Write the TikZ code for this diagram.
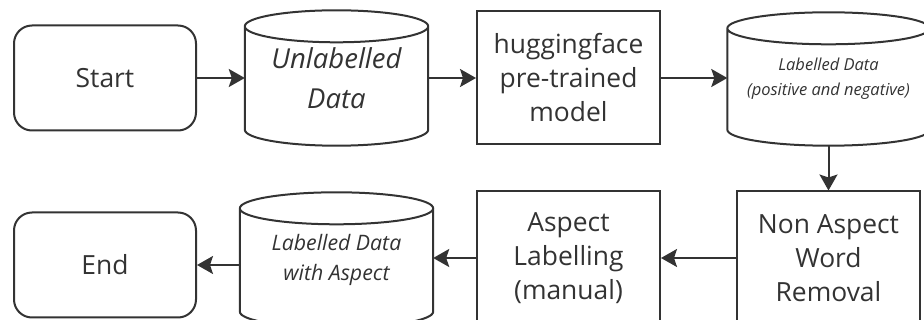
\documentclass[tikz,border=0pt]{standalone}
\usepackage{fontspec}
\setmainfont{Open Sans}
\usetikzlibrary{arrows.meta,calc}
\usetikzlibrary{positioning}
\definecolor{ink}{HTML}{333333}
% outline of a data store round a named node
\newcommand{\drum}[1]{%
 \draw[-, draw=ink, line width=2pt]
  let \p1=(#1.west), \p2=(#1.east), \n1={(\x2-\x1)/2} in
  ([yshift=-16pt]#1.north west) -- ([yshift=16pt]#1.south west)
  arc[start angle=180, end angle=360, x radius=\n1, y radius=16pt]
  -- ([yshift=-16pt]#1.north east)
  ([yshift=-16pt]#1.north) ellipse[x radius=\n1, y radius=16pt];}
\tikzset{
    terminal/.style={
           rectangle,
           rounded corners=18pt,
           draw=ink, line width=2pt,
           minimum width=182pt,
           minimum height=105pt,
           text=ink,
           font=\fontsize{26.4}{34}\selectfont,
           },
    process/.style={
           rectangle,
           draw=ink, line width=2pt,
           minimum width=183pt,
           minimum height=133pt,
           align=center,
           text=ink,
           font=\fontsize{26.4}{34}\selectfont,
           },
    store/.style={
           rectangle,
           align=center,
           text=ink,
           },
}

\begin{document}
\begin{tikzpicture}[x=1pt,y=-1pt,->,>={Stealth[length=16pt,width=18pt,inset=3pt]}]
 \clip (0,0) rectangle (924,320);

 % top row
 \node[terminal] (Start) at (105,78) {Start};

 \node[store,
  right of=Start,
  node distance=231.5pt,
  minimum width=183pt,
  minimum height=135pt,
  font=\fontsize{27.5}{40}\selectfont\itshape] (Unlabelled)
 {Unlabelled\\Data};
 \drum{Unlabelled}

 \node[process,
  right of=Unlabelled,
  node distance=232pt] (Model)
 {huggingface\\pre-trained\\model};

 \node[store,
  right of=Model,
  node distance=260pt,
  yshift=-1pt,
  minimum width=202pt,
  minimum height=133pt,
  font=\fontsize{16.5}{25}\selectfont\itshape] (Labelled)
 {Labelled Data\\(positive and negative)};
 \drum{Labelled}

 % bottom row
 \node[process,
  below of=Model,
  node distance=180pt] (Aspect)
 {Aspect\\Labelling\\(manual)};

 \node[process,
  right of=Aspect,
  node distance=260pt] (Removal)
 {Non Aspect\\Word\\Removal};

 \node[store,
  left of=Aspect,
  node distance=232pt,
  yshift=-2pt,
  minimum width=193pt,
  minimum height=135pt,
  font=\fontsize{21.3}{30}\selectfont\itshape] (WithAspect)
 {Labelled Data\\with Aspect};
 \drum{WithAspect}

 \node[terminal,
  left of=Aspect,
  node distance=463.5pt,
  yshift=-7pt] (End)
 {End};

 % connectors
 \begin{scope}[draw=ink, line width=2pt]
 \draw (Start) -- (Unlabelled);
 \draw (Unlabelled) -- (Model);
 \draw (Model) -- (Model -| Labelled.west);
 \draw (Labelled) -- (Removal);
 \draw (Removal) -- (Aspect);
 \draw (Aspect) -- (Aspect -| WithAspect.east);
 \draw (End -| WithAspect.west) -- (End);
 \end{scope}

\end{tikzpicture}
\end{document}
